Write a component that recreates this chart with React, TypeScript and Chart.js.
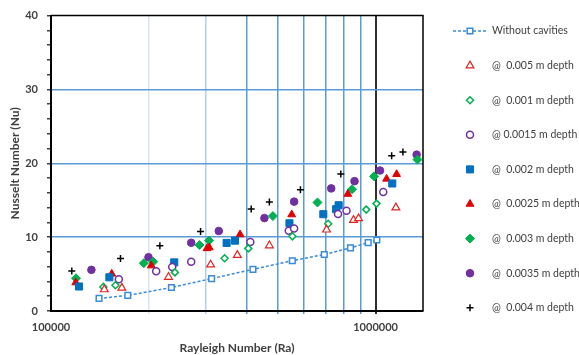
import React, { useEffect, useRef } from 'react';
import { Chart, registerables } from 'chart.js';
import { drawPoint } from 'chart.js/helpers';

Chart.register(...registerables);

// ---- data (Rayleigh number vs Nusselt number) ----
const raWithout = [140600, 172400, 235000, 312500, 419000, 554000, 695000, 837000, 949000, 1009000];
const nuWithout = [1.70, 2.11, 3.18, 4.39, 5.64, 6.81, 7.65, 8.55, 9.26, 9.62];

const ra005 = [146000, 165300, 230200, 310300, 375000, 470800, 706300, 855000, 886300, 1155000];
const nu005 = [2.91, 3.13, 4.60, 6.27, 7.56, 8.86, 11.0, 12.31, 12.53, 14.0];

const ra001 = [145000, 158000, 240900, 342700, 405500, 554500, 714500, 936000, 1007000];
const nu001 = [3.26, 3.49, 5.23, 7.15, 8.48, 10.11, 11.81, 13.73, 14.54];

const ra0015 = [161800, 210900, 236300, 270400, 411300, 540100, 561100, 766100, 813800, 1056000];
const nu0015 = [4.30, 5.37, 5.95, 6.67, 9.33, 10.87, 11.18, 13.15, 13.56, 16.11];

const ra002 = [122000, 151300, 239700, 347600, 368900, 542800, 690200, 756000, 769500, 1126000];
const nu002 = [3.32, 4.56, 6.58, 9.22, 9.53, 11.88, 13.11, 13.79, 14.32, 17.27];

const ra0025 = [119200, 153900, 203600, 302400, 307400, 382300, 551700, 821300, 1081000, 1161000];
const nu0025 = [3.85, 5.03, 6.15, 8.48, 8.59, 10.36, 13.06, 15.84, 17.89, 18.52];

const ra003 = [119400, 193200, 206500, 286800, 306900, 482700, 662100, 846300, 989500, 1346000];
const nu003 = [4.43, 6.48, 6.67, 8.93, 9.53, 12.85, 14.70, 16.48, 18.23, 20.50];

const ra0035 = [133200, 199700, 270400, 328800, 454500, 561100, 730000, 861300, 1032000, 1338000];
const nu0035 = [5.57, 7.28, 9.24, 10.83, 12.58, 14.81, 16.60, 17.58, 19.02, 21.17];

const ra004 = [115900, 163700, 216500, 288900, 413800, 470800, 586800, 781500, 1121000, 1214000];
const nu004 = [5.41, 7.11, 8.82, 10.78, 13.80, 14.77, 16.42, 18.56, 21.03, 21.52];

const seriesLabels = [
  'Without cavities',
  '@  0.005 m depth',
  '@  0.001 m depth',
  '@ 0.0015 m depth',
  '@  0.002 m depth',
  '@  0.0025 m depth',
  '@  0.003 m depth',
  '@  0.0035 m depth',
  '@  0.004 m depth',
];

const raGridTicks = [100000, 200000, 300000, 400000, 500000, 600000, 700000, 800000, 900000, 1000000];
const raLabelTicks = [100000, 1000000];
const nuLabelTicks = [0, 10, 20, 30, 40];
const nuGridLines = [10, 20, 30];

const BLUE = '#5B9BD5';

const toPts = (xs: number[], ys: number[]) => xs.map((x, i) => ({ x, y: ys[i] }));

const framePlugin = {
  id: 'frame',
  beforeDatasetsDraw(chart: any) {
    const { ctx, chartArea } = chart;
    const { left, right, top, bottom } = chartArea;
    ctx.save();
    ctx.strokeStyle = '#000';
    ctx.lineWidth = 1.5;
    ctx.beginPath();
    ctx.moveTo(left, top);
    ctx.lineTo(right, top);
    ctx.lineTo(right, bottom);
    ctx.stroke();
    ctx.restore();
  },
};

const legendPlugin = {
  id: 'sideLegend',
  afterDraw(chart: any) {
    const ctx = chart.ctx;
    ctx.save();
    chart.data.datasets.forEach((ds: any, i: number) => {
      const y = 31 + i * 34.6;
      const mx = 470;
      if (ds.showLine) {
        ctx.strokeStyle = ds.borderColor;
        ctx.lineWidth = 1.5;
        ctx.setLineDash([3, 2]);
        ctx.beginPath();
        ctx.moveTo(453, y);
        ctx.lineTo(488, y);
        ctx.stroke();
        ctx.setLineDash([]);
      }
      ctx.fillStyle = ds.pointBackgroundColor;
      ctx.strokeStyle = ds.pointBorderColor;
      ctx.lineWidth = ds.pointBorderWidth;
      drawPoint(
        ctx,
        { pointStyle: ds.pointStyle, rotation: 0, radius: ds.pointRadius, borderWidth: ds.pointBorderWidth } as any,
        mx,
        y
      );
      ctx.fillStyle = '#404040';
      ctx.font = '10.5px Lato';
      ctx.textBaseline = 'middle';
      ctx.textAlign = 'left';
      ctx.fillText(ds.label, 492, y);
    });
    ctx.restore();
  },
};

export default function App() {
  const ref = useRef<HTMLCanvasElement>(null);

  useEffect(() => {
    document.body.style.margin = '0';
    document.body.style.overflow = 'hidden';
    if (!ref.current) return;

    const mk = (
      i: number,
      xs: number[],
      ys: number[],
      style: string,
      radius: number,
      bg: string,
      border: string,
      bw: number,
      extra: any = {}
    ) => ({
      label: seriesLabels[i],
      data: toPts(xs, ys),
      pointStyle: style,
      pointRadius: radius,
      pointHoverRadius: radius,
      pointBackgroundColor: bg,
      pointBorderColor: border,
      pointBorderWidth: bw,
      backgroundColor: bg,
      borderColor: border,
      showLine: false,
      ...extra,
    });

    const datasets = [
      mk(0, raWithout, nuWithout, 'rect', 4, '#ffffff', '#3A8BDB', 1.5, {
        showLine: true,
        borderWidth: 1.5,
        borderDash: [3, 2],
      }),
      mk(1, ra005, nu005, 'triangle', 4.5, '#ffffff', '#E02424', 1.2),
      mk(2, ra001, nu001, 'rectRot', 3.5, '#ffffff', '#00B050', 1.5),
      mk(3, ra0015, nu0015, 'circle', 3.5, '#ffffff', '#7030A0', 1.5),
      mk(4, ra002, nu002, 'rect', 5, '#0070C0', '#0070C0', 1),
      mk(5, ra0025, nu0025, 'triangle', 4.5, '#E00000', '#E00000', 1),
      mk(6, ra003, nu003, 'rectRot', 4.5, '#00B050', '#00B050', 1),
      mk(7, ra0035, nu0035, 'circle', 3.8, '#7030A0', '#7030A0', 1),
      mk(8, ra004, nu004, 'cross', 3.5, '#000000', '#000000', 1.5),
    ];

    const tickFont = { family: 'Lato', size: 11, weight: 'bold' as const };
    const titleFont = { family: 'Lato', size: 12, weight: 'bold' as const };

    const chart = new Chart(ref.current, {
      type: 'scatter',
      data: { datasets: datasets as any },
      options: {
        animation: false,
        responsive: true,
        maintainAspectRatio: false,
        events: [],
        layout: { padding: { top: 13, right: 156, left: 0, bottom: 0 } },
        plugins: {
          legend: { display: false },
          tooltip: { enabled: false },
        },
        scales: {
          x: {
            type: 'logarithmic',
            min: 100000,
            max: 1400000,
            afterBuildTicks: (s: any) => {
              s.ticks = raGridTicks.map((v) => ({ value: v }));
            },
            afterFit: (s: any) => {
              s.height = 44;
            },
            ticks: {
              autoSkip: false,
              maxRotation: 0,
              minRotation: 0,
              padding: 7,
              color: '#404040',
              font: tickFont,
              callback: (v: any) => (raLabelTicks.includes(Number(v)) ? String(v) : ''),
            },
            grid: {
              color: (c: any) => {
                const v = c.tick?.value;
                if (v === 100000) return 'rgba(0,0,0,0)';
                if (v === 200000) return '#DAE3F3';
                if (v === 300000) return '#B4CFEC';
                if (v === 1000000) return '#303030';
                return BLUE;
              },
              lineWidth: (c: any) => (c.tick?.value === 1000000 ? 2 : 1.5),
              tickLength: 3,
              drawTicks: true,
            },
            border: { display: true, color: '#000', width: 2 },
            title: {
              display: true,
              text: 'Rayleigh Number (Ra)',
              color: '#404040',
              font: titleFont,
              padding: { top: 0, bottom: 0 },
            },
          },
          y: {
            type: 'linear',
            min: 0,
            max: 40,
            afterFit: (s: any) => {
              s.width = 51;
            },
            ticks: {
              stepSize: 2,
              autoSkip: false,
              padding: 9,
              color: '#404040',
              font: tickFont,
              callback: (v: any) => (nuLabelTicks.includes(Number(v)) ? String(v) : ''),
            },
            grid: {
              color: (c: any) => (nuGridLines.includes(c.tick?.value) ? BLUE : 'rgba(0,0,0,0)'),
              lineWidth: 1.5,
              tickColor: '#404040',
              tickLength: 4,
              drawTicks: true,
            },
            border: { display: true, color: '#000', width: 2 },
            title: {
              display: true,
              text: 'Nusselt Number (Nu)',
              color: '#404040',
              font: titleFont,
              padding: { top: 8, bottom: 0 },
            },
          },
        },
      } as any,
      plugins: [framePlugin, legendPlugin],
    });

    return () => chart.destroy();
  }, []);

  return (
    <div style={{ width: 579, height: 355, position: 'relative' }}>
      <canvas ref={ref} />
    </div>
  );
}
